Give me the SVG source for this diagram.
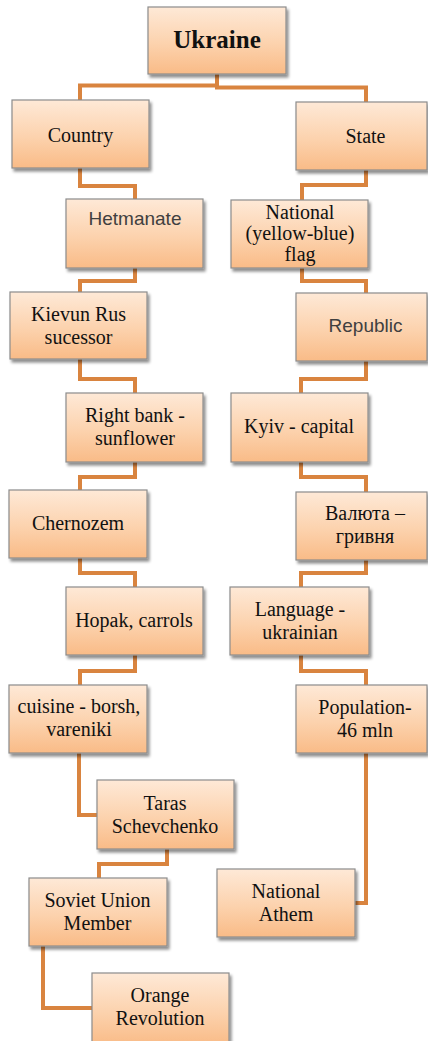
<svg xmlns="http://www.w3.org/2000/svg" width="428" height="1041" viewBox="0 0 428 1041">
<defs>
<linearGradient id="g" x1="0" y1="0" x2="0" y2="1">
<stop offset="0" stop-color="#fee9d7"/>
<stop offset="0.55" stop-color="#fcd2ad"/>
<stop offset="1" stop-color="#f9bb87"/>
</linearGradient>
<filter id="sh" x="-10%" y="-10%" width="125%" height="130%">
<feGaussianBlur in="SourceAlpha" stdDeviation="1.5"/>
<feOffset dx="2" dy="2.5" result="o"/>
<feComponentTransfer><feFuncA type="linear" slope="0.45"/></feComponentTransfer>
<feMerge><feMergeNode/><feMergeNode in="SourceGraphic"/></feMerge>
</filter>
<style>
.box{fill:url(#g);stroke:#8c8c8c;stroke-width:1.2;filter:url(#sh)}
.t{font-family:'Liberation Serif','DejaVu Serif','Times New Roman',serif;font-size:20px;fill:#111;text-anchor:middle}
.b{font-weight:bold;font-size:25px}
.s{font-family:'Liberation Sans','DejaVu Sans',Arial,sans-serif;font-size:19px;fill:#404040;text-anchor:middle}
.c{fill:none;stroke:#d9843f;stroke-width:4;stroke-linejoin:miter}
</style>
</defs>
<rect width="428" height="1041" fill="#ffffff"/>
<g id="connectors">
<path class="c" d="M217 74 V85.5 H80 V100"/>
<path class="c" d="M217 74 V87.5 H366 V102"/>
<path class="c" d="M80 168 V186 H135 V199"/>
<path class="c" d="M366 170 V185 H302 V200"/>
<path class="c" d="M135 268 V281 H80 V292"/>
<path class="c" d="M302 268 V281 H366 V293"/>
<path class="c" d="M80 359 V379 H135 V393"/>
<path class="c" d="M366 361 V379 H301 V393"/>
<path class="c" d="M135 462 V477 H80 V490"/>
<path class="c" d="M301 462 V477 H366 V492"/>
<path class="c" d="M80 558 V573 H135 V587"/>
<path class="c" d="M366 560 V573 H301 V587"/>
<path class="c" d="M135 655 V671 H80 V685"/>
<path class="c" d="M301 655 V671 H366 V685"/>
<path class="c" d="M79 753 V815 H97"/>
<path class="c" d="M366 753 V903 H355"/>
<path class="c" d="M167 849 V864 H99 V878"/>
<path class="c" d="M43 946 V1008 H92"/>
</g>
<g id="ukraine"><rect class="box" x="148" y="7" width="138" height="67"/><text class="t b" x="217" y="48">Ukraine</text></g>
<g id="country"><rect class="box" x="12" y="100" width="137" height="68"/><text class="t" x="80.5" y="142">Country</text></g>
<g id="state"><rect class="box" x="296" y="102" width="131" height="68"/><text class="t" x="365.5" y="143">State</text></g>
<g id="hetmanate"><rect class="box" x="66" y="199" width="137" height="69"/><text class="s" x="135" y="225">Hetmanate</text></g>
<g id="flag"><rect class="box" x="231" y="200" width="137" height="68"/><text class="t" x="300" y="219" font-size="18.5">National</text><text class="t" x="300" y="240" font-size="18.5">(yellow-blue)</text><text class="t" x="300" y="261" font-size="18.5">flag</text></g>
<g id="kievun"><rect class="box" x="10" y="292" width="137" height="67"/><text class="t" x="78.5" y="321">Kievun Rus</text><text class="t" x="78.5" y="344">sucessor</text></g>
<g id="republic"><rect class="box" x="296" y="293" width="131" height="68"/><text class="s" x="365.5" y="332">Republic</text></g>
<g id="rightbank"><rect class="box" x="66" y="393" width="137" height="69"/><text class="t" x="135" y="422">Right bank -</text><text class="t" x="135" y="445">sunflower</text></g>
<g id="kyiv"><rect class="box" x="231" y="393" width="137" height="69"/><text class="t" x="299" y="433">Kyiv - capital</text></g>
<g id="chernozem"><rect class="box" x="9" y="490" width="138" height="68"/><text class="t" x="78" y="530">Chernozem</text></g>
<g id="currency"><rect class="box" x="296" y="492" width="131" height="68"/><text class="t" x="365" y="520">Валюта –</text><text class="t" x="365" y="543">гривня</text></g>
<g id="hopak"><rect class="box" x="66" y="587" width="137" height="68"/><text class="t" x="134" y="627">Hopak, carrols</text></g>
<g id="language"><rect class="box" x="230" y="587" width="139" height="68"/><text class="t" x="300" y="616">Language -</text><text class="t" x="300" y="639">ukrainian</text></g>
<g id="cuisine"><rect class="box" x="9" y="685" width="138" height="68"/><text class="t" x="79" y="713">cuisine - borsh,</text><text class="t" x="79" y="736">vareniki</text></g>
<g id="population"><rect class="box" x="296" y="685" width="131" height="68"/><text class="t" x="365" y="714">Population-</text><text class="t" x="365" y="737">46 mln</text></g>
<g id="taras"><rect class="box" x="97" y="780" width="137" height="69"/><text class="t" x="165" y="810">Taras</text><text class="t" x="165" y="833">Schevchenko</text></g>
<g id="soviet"><rect class="box" x="29" y="878" width="138" height="68"/><text class="t" x="97.5" y="907">Soviet Union</text><text class="t" x="97.5" y="930">Member</text></g>
<g id="anthem"><rect class="box" x="217" y="869" width="138" height="68"/><text class="t" x="286" y="898">National</text><text class="t" x="286" y="921">Athem</text></g>
<g id="orange"><rect class="box" x="92" y="973" width="137" height="72"/><text class="t" x="160" y="1002">Orange</text><text class="t" x="160" y="1025">Revolution</text></g>
</svg>
